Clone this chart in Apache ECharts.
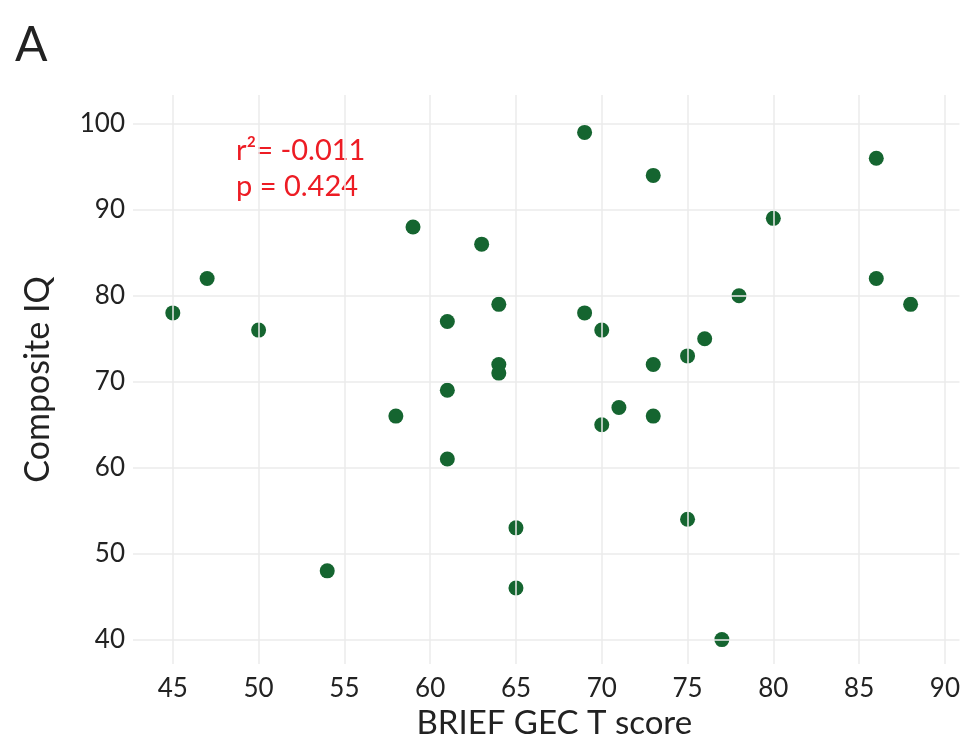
<!DOCTYPE html>
<html>
<head>
<meta charset="utf-8">
<script src="https://cdn.jsdelivr.net/npm/echarts@6/dist/echarts.min.js"></script>
<style>
  html, body { margin: 0; padding: 0; background: #fff; }
  #chart { width: 963px; height: 745px; }
</style>
</head>
<body>
<div id="chart"></div>
<script>
  // BRIEF GEC T score vs Composite IQ
  var briefScore = [45, 47, 50, 54, 58, 59, 61, 61, 61, 63, 64, 64, 64, 65, 65, 69, 69, 70, 70, 71, 73, 73, 73, 75, 75, 76, 77, 78, 80, 86, 86, 88];
  var compositeIQ = [78, 82, 76, 48, 66, 88, 77, 69, 61, 86, 79, 72, 71, 53, 46, 99, 78, 76, 65, 67, 94, 72, 66, 73, 54, 75, 40, 80, 89, 96, 82, 79];
  var xTicks = [45, 50, 55, 60, 65, 70, 75, 80, 85, 90];
  var yTicks = [40, 50, 60, 70, 80, 90, 100];
  var statR2 = '-0.011';
  var statP = '0.424';

  var points = briefScore.map(function (x, i) { return [x, compositeIQ[i]]; });

  var font = 'Lato';
  var chart = echarts.init(document.getElementById('chart'));
  chart.setOption({
    backgroundColor: '#fff',
    animation: false,
    grid: { left: 133, right: 0, top: 95, bottom: 77 },
    xAxis: {
      type: 'value',
      min: 42.68, max: 90.85,
      name: 'BRIEF GEC T score',
      nameLocation: 'middle',
      nameGap: 42,
      nameTextStyle: { fontFamily: font, fontSize: 33, color: '#222', padding: [0, 0, 0, 16] },
      axisLine: { show: false },
      axisTick: { show: false },
      axisLabel: {
        fontFamily: font, fontSize: 26, color: '#222', margin: 12,
        customValues: xTicks
      },
      splitLine: { show: false }
    },
    yAxis: {
      type: 'value',
      min: 37.15, max: 103.35,
      name: 'Composite IQ',
      nameLocation: 'middle',
      nameGap: 78,
      nameRotate: 90,
      nameTextStyle: { fontFamily: font, fontSize: 34, color: '#222' },
      axisLine: { show: false },
      axisTick: { show: false },
      axisLabel: {
        fontFamily: font, fontSize: 26, color: '#222', margin: 8,
        customValues: yTicks
      },
      splitLine: { show: false }
    },
    series: [
      {
        // grid lines drawn at the tick values
        type: 'scatter',
        silent: true,
        symbolSize: 0,
        data: [],
        markLine: {
          silent: true,
          symbol: 'none',
          label: { show: false },
          lineStyle: { color: '#ebebeb', width: 1.5, type: 'solid' },
          data: xTicks.map(function (v) { return { xAxis: v }; })
            .concat(yTicks.map(function (v) { return { yAxis: v }; }))
        }
      },
      {
        type: 'scatter',
        symbolSize: 15,
        itemStyle: { color: '#156530', opacity: 1 },
        data: points
      }
    ],
    graphic: [
      {
        type: 'text', left: 15, top: 22,
        style: { text: 'A', font: '48px ' + font, fill: '#222' }
      },
      {
        type: 'text', left: 236, top: 133,
        style: {
          text: 'r\u00b2= ' + statR2 + '\np = ' + statP,
          font: '29px ' + font,
          lineHeight: 36,
          fill: '#ed1c24'
        }
      }
    ]
  });
</script>
</body>
</html>
